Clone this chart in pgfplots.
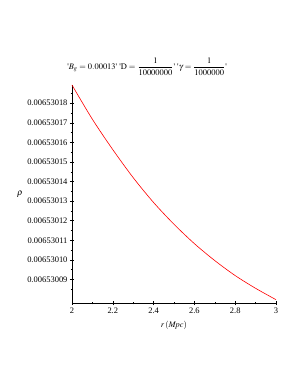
\documentclass[border=0pt]{standalone}
\usepackage{mathptmx}
\usepackage{pgfplots}
\pgfplotsset{compat=1.18}
\usepackage{fontspec}
\setmainfont{Liberation Serif}
\newcommand{\q}{\mbox{\textquotesingle}}
\newcommand{\df}[2]{{\displaystyle\frac{#1}{#2}}}
\begin{document}
\begin{tikzpicture}[x=1bp,y=1bp]
\path[use as bounding box] (-72,-85) rectangle (228,303);
\begin{axis}[
  at={(0,0)}, anchor=south west,
  scale only axis, width=204bp, height=218bp,
  xmin=2, xmax=3, ymin=7.8, ymax=18.93,
  axis lines*=left,
  axis line style={line width=0.6pt},
  tick style={black, line width=0.5pt},
  tick align=center,
  major tick length=4bp, minor tick length=2.5bp,
  xtick={2,2.2,2.4,2.6,2.8,3},
  xticklabels={2,2.2,2.4,2.6,2.8,3},
  minor xtick={2.1,2.3,2.5,2.7,2.9},
  ytick={9,10,11,12,13,14,15,16,17,18},
  yticklabels={0.00653009,0.00653010,0.00653011,0.00653012,0.00653013,0.00653014,0.00653015,0.00653016,0.00653017,0.00653018},
  minor ytick={8.5,9.5,10.5,11.5,12.5,13.5,14.5,15.5,16.5,17.5,18.5},
  /pgf/number format/assume math mode=true,
  ticklabel style={font=\fontsize{8.5}{9}\selectfont},
  xticklabel style={yshift=1bp},
  yticklabel style={xshift=1bp},
  xlabel={$r\,(\mathit{Mpc})$},
  xlabel style={font=\fontsize{8.5}{10}\selectfont, at={(axis description cs:0.5,0)}, anchor=center, yshift=-22bp},
  ylabel={$\rho$},
  ylabel style={font=\fontsize{9}{10}\selectfont, rotate=-90, at={(axis description cs:0,0.5)}, anchor=center, xshift=-52bp},
  title={$\q B_{g}=0.00013\q\ \q\mathrm{D}=\df{1}{10000000}\q\ \q\gamma=\df{1}{1000000}\q$},
  title style={font=\fontsize{8.5}{10}\selectfont, at={(axis description cs:0.368,1)}, anchor=south, yshift=0bp},
  clip=false,
]
\addplot[red, line width=0.6pt, smooth] coordinates {
  (2.0,18.93) (2.1,17.18) (2.2,15.63) (2.3,14.20) (2.4,12.93)
  (2.5,11.82) (2.6,10.83) (2.7,9.965) (2.8,9.20) (2.9,8.55) (3.0,7.97)
};
\end{axis}
\end{tikzpicture}
\end{document}
